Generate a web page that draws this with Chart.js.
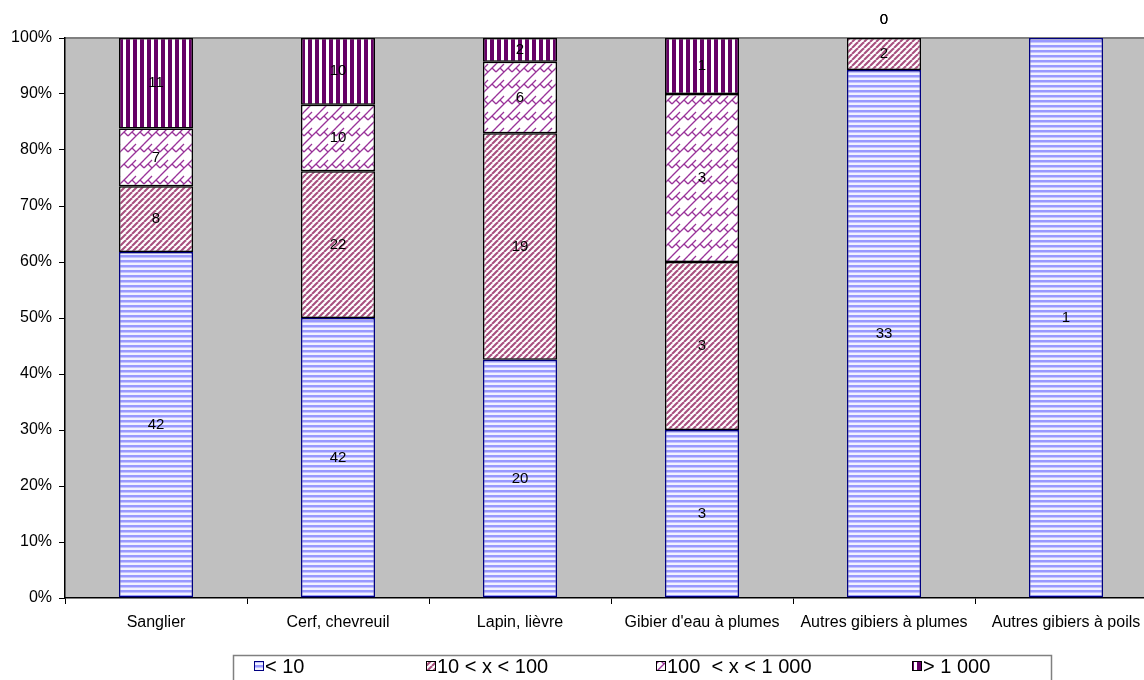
<!DOCTYPE html>
<html>
<head>
<meta charset="utf-8">
<script src="https://cdn.jsdelivr.net/npm/chart.js@4.4.0/dist/chart.umd.min.js"></script>
<style>
html,body{margin:0;padding:0;background:#fff;overflow:hidden;}
#wrap{position:relative;width:1144px;height:680px;overflow:hidden;}
canvas{display:block;}
</style>
</head>
<body>
<div id="wrap"><canvas id="c" width="1157" height="680"></canvas></div>
<script>
const categories = ["Sanglier", "Cerf, chevreuil", "Lapin, lièvre", "Gibier d'eau à plumes", "Autres gibiers à plumes", "Autres gibiers à poils"];
const seriesNames = ["< 10", "10 < x < 100", "100  < x < 1 000", "> 1 000"];
const countsLow = [42, 42, 20, 3, 33, 1];
const countsMid = [8, 22, 19, 3, 2, 0];
const countsHigh = [7, 10, 6, 3, 0, 0];
const countsTop = [11, 10, 2, 1, 0, 0];
const yTicks = [0, 10, 20, 30, 40, 50, 60, 70, 80, 90, 100];

const allCounts = [countsLow, countsMid, countsHigh, countsTop];
const totals = categories.map((_, i) => allCounts.reduce((s, a) => s + a[i], 0));
const pct = allCounts.map(a => a.map((v, i) => v / totals[i] * 100));

const FONT = '"Liberation Sans", Arial, sans-serif';

function makePattern(kind) {
  const c = document.createElement('canvas');
  const x = c.getContext('2d');
  if (kind === 0) {
    c.width = 6; c.height = 5;
    x.fillStyle = '#f2f2ff'; x.fillRect(0, 0, 6, 5);
    x.fillStyle = '#9999ff'; x.fillRect(0, 0, 6, 2);
    x.fillStyle = '#c4c4ff'; x.fillRect(0, 2, 6, 1);
  } else if (kind === 1) {
    c.width = 6; c.height = 6;
    x.fillStyle = '#ffffff'; x.fillRect(0, 0, 6, 6);
    x.strokeStyle = '#a8507f'; x.lineWidth = 2.1;
    for (let k = -6; k <= 12; k += 6) {
      x.beginPath(); x.moveTo(k, 6); x.lineTo(k + 6, 0); x.stroke();
    }
  } else if (kind === 2) {
    c.width = 16; c.height = 16;
    x.fillStyle = '#ffffff'; x.fillRect(0, 0, 16, 16);
    x.strokeStyle = '#993399'; x.lineWidth = 1.3;
    for (const ox of [-16, 0, 16]) {
      for (const oy of [-16, 0, 16]) {
        x.beginPath(); x.moveTo(ox + 0, oy + 8); x.lineTo(ox + 8, oy + 0); x.stroke();
        x.beginPath(); x.moveTo(ox + 0, oy + 16); x.lineTo(ox + 16, oy + 0); x.stroke();
        x.beginPath(); x.moveTo(ox + 4, oy + 4); x.lineTo(ox + 8, oy + 8); x.stroke();
        x.beginPath(); x.moveTo(ox + 12, oy + 4); x.lineTo(ox + 16, oy + 8); x.stroke();
      }
    }
  } else {
    c.width = 7; c.height = 7;
    x.fillStyle = '#ffffff'; x.fillRect(0, 0, 7, 7);
    x.fillStyle = '#660066'; x.fillRect(0, 0, 4, 7);
  }
  return document.getElementById('c').getContext('2d').createPattern(c, 'repeat');
}

const borderColors = ['#000080', '#000000', '#000000', '#000000'];

const datasets = pct.map((d, i) => ({
  label: seriesNames[i],
  data: d,
  counts: allCounts[i],
  backgroundColor: makePattern(i),
  borderColor: borderColors[i],
  borderWidth: 1.5,
  borderSkipped: false,
  categoryPercentage: 1,
  barPercentage: 0.407
}));

const bgPlugin = {
  id: 'bg',
  beforeDraw(chart) {
    const {ctx, chartArea: a} = chart;
    ctx.save();
    ctx.fillStyle = '#c0c0c0';
    ctx.fillRect(a.left, a.top, a.right - a.left, a.bottom - a.top);
    ctx.strokeStyle = '#808080'; ctx.lineWidth = 2;
    ctx.beginPath(); ctx.moveTo(a.left, a.top); ctx.lineTo(a.right, a.top); ctx.stroke();
    ctx.restore();
  }
};

const labelPlugin = {
  id: 'labels',
  afterDatasetsDraw(chart) {
    const {ctx} = chart;
    ctx.save();
    ctx.font = '15px ' + FONT;
    ctx.fillStyle = '#000';
    ctx.textAlign = 'center';
    ctx.textBaseline = 'middle';
    chart.data.datasets.forEach((ds, di) => {
      const meta = chart.getDatasetMeta(di);
      meta.data.forEach((bar, i) => {
        const v = ds.counts[i];
        if (v === 0) {
          if (i === 4) ctx.fillText('0', bar.x, chart.chartArea.top - 18);
          return;
        }
        ctx.fillText(String(v), bar.x, (bar.y + bar.base) / 2);
      });
    });
    ctx.restore();
  }
};

const legendPlugin = {
  id: 'customLegend',
  afterDraw(chart) {
    const {ctx} = chart;
    ctx.save();
    ctx.strokeStyle = '#808080'; ctx.lineWidth = 1.5;
    ctx.strokeRect(233.5, 655.5, 818, 40);
    const xs = [254, 426, 656, 912];
    ctx.font = '20px ' + FONT;
    ctx.textBaseline = 'middle';
    ctx.textAlign = 'left';
    chart.data.datasets.forEach((ds, i) => {
      ctx.fillStyle = ds.backgroundColor;
      ctx.fillRect(xs[i], 661, 10, 10);
      ctx.strokeStyle = borderColors[i]; ctx.lineWidth = 1;
      ctx.strokeRect(xs[i] + 0.5, 661.5, 9, 9);
      ctx.fillStyle = '#000';
      ctx.fillText(ds.label, xs[i] + 11, 667);
    });
    ctx.restore();
  }
};

new Chart(document.getElementById('c'), {
  type: 'bar',
  data: {labels: categories, datasets},
  options: {
    responsive: false,
    animation: false,
    layout: {padding: {top: 38, right: 0, bottom: 0, left: 0}},
    plugins: {legend: {display: false}, tooltip: {enabled: false}},
    scales: {
      x: {
        stacked: true,
        afterFit(s) { s.height = 82; },
        grid: {display: true, drawOnChartArea: false, drawTicks: true, tickLength: 6, color: '#000', offset: true},
        border: {display: true, color: '#000', width: 1.5},
        ticks: {color: '#000', font: {family: FONT, size: 16}, padding: 9, maxRotation: 0, autoSkip: false}
      },
      y: {
        stacked: true,
        min: 0, max: 100,
        afterFit(s) { s.width = 65; },
        afterBuildTicks(s) { s.ticks = yTicks.map(v => ({value: v})); },
        grid: {display: true, drawOnChartArea: false, drawTicks: true, tickLength: 6, color: '#000'},
        border: {display: true, color: '#000', width: 1.5},
        ticks: {color: '#000', font: {family: FONT, size: 16}, padding: 7, callback: v => v + '%'}
      }
    }
  },
  plugins: [bgPlugin, labelPlugin, legendPlugin]
});
</script>
</body>
</html>
